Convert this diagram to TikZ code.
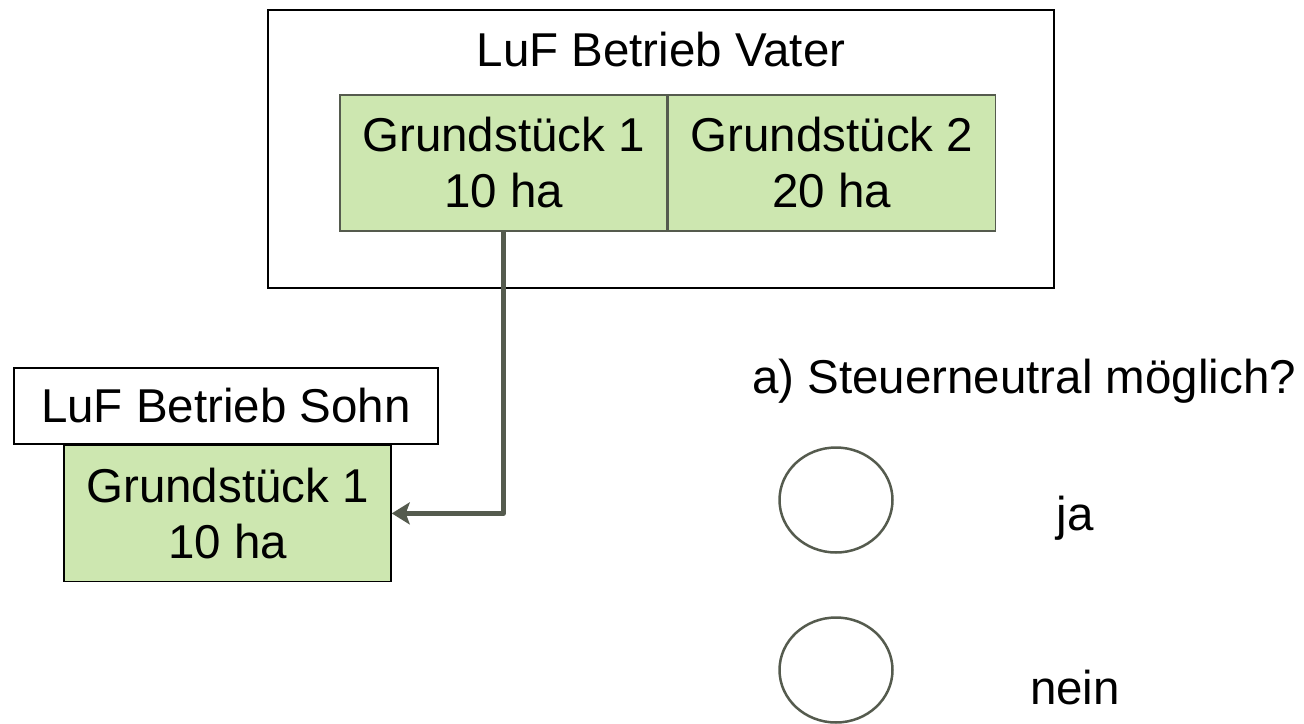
\documentclass[tikz,border=0pt]{standalone}
\usepackage{fontspec}
\setmainfont{Liberation Sans}
\usetikzlibrary{positioning,arrows.meta,shapes.geometric}
\definecolor{feld}{HTML}{CDE7B0}
\definecolor{rand}{HTML}{555B4E}
\tikzset{
    betrieb/.style = {
        draw = black,
        line width = 1.3pt,
        fill = white,
        },
    grundstueck/.style = {
        draw = rand,
        line width = 1.5pt,
        fill = feld,
        align = center,
        minimum width = 327pt,
        minimum height = 136pt,
        inner sep = 0pt,
        },
    uebergang/.style = {
        draw = rand,
        line width = 5pt,
        line join = round,
        -{Stealth[length=18pt,width=22pt,inset=4pt]},
        },
    antwort/.style = {
        draw = rand,
        line width = 2.5pt,
        ellipse,
        minimum width = 113pt,
        minimum height = 105pt,
        },
}

\begin{document}
\begin{tikzpicture}[x=1pt,y=-1pt,font=\fontsize{47.5}{56}\selectfont]
    \useasboundingbox (0,0) rectangle (1304,723);

    % Betrieb des Vaters mit beiden Grundstuecken
    \node[betrieb, minimum width=786pt, minimum height=278pt] (vater) at (661,149) {};
    \node (vatertitel) at (661,50) {LuF Betrieb Vater};
    \node[grundstueck] (g1) at (503.5,163) {Grundstück 1\\10 ha};
    \node[grundstueck, right=0pt of g1] (g2) {Grundstück 2\\20 ha};

    % Betrieb des Sohnes
    \node[betrieb, minimum width=424pt, minimum height=76pt, inner sep=0pt] (sohn) at (226,406) {LuF Betrieb Sohn};
    \node[grundstueck, draw=black, below=0pt of sohn.south, xshift=1.5pt] (s1) {Grundstück 1\\10 ha};

    \draw[uebergang] (g1.south) |- (s1.east);

    % Frage mit Auswahl
    \node (frage) at (1024,381) {a) Steuerneutral möglich?};
    \node[antwort] (kreisja) at (836,500) {};
    \node[antwort] (kreisnein) at (836,670) {};
    \node (ja) at (1075,518) {ja};
    \node (nein) at (1075,688) {nein};
\end{tikzpicture}
\end{document}
